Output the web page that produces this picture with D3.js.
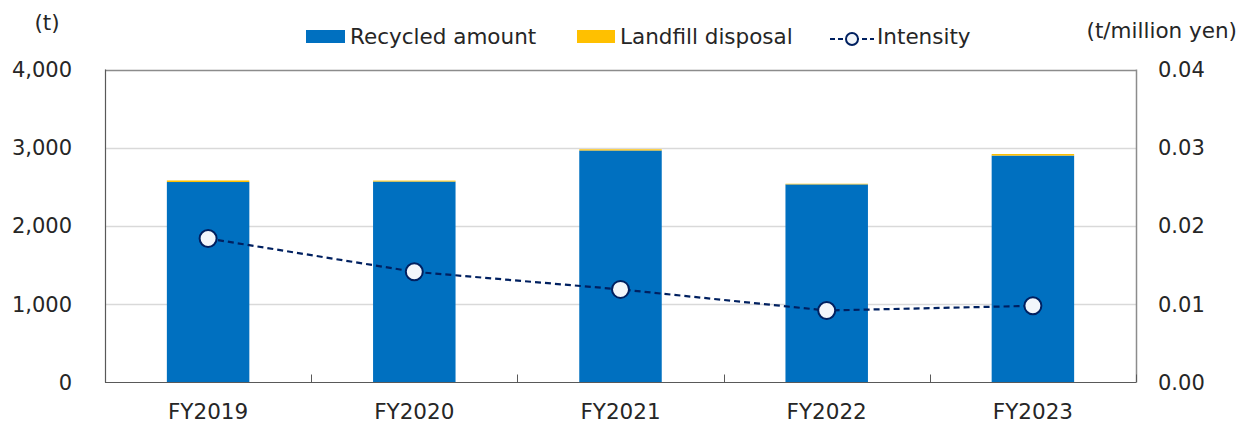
<!DOCTYPE html>
<html lang="en">
<head>
  <meta charset="UTF-8" />
  <title>Waste amount and intensity</title>
  <script src="https://cdn.jsdelivr.net/npm/d3@7"></script>
  <style>
    body { margin: 0; background: #fff; }
    text { font-family: Verdana, "DejaVu Sans", sans-serif; fill: #262626; }
  </style>
</head>
<body>
  <svg id="chart" width="1239" height="423"></svg>
  <script>
    // data
    let years = ["FY2019", "FY2020", "FY2021", "FY2022", "FY2023"];
    let recycled = [2562, 2568, 2965, 2532, 2900];
    let landfill = [20, 12, 15, 8, 20];
    let intensity = [0.0184, 0.01415, 0.0119, 0.0092, 0.0098];
    let leftTicks = [0, 1000, 2000, 3000, 4000];
    let rightTicks = [0, 0.01, 0.02, 0.03, 0.04];

    let svg = d3.select("#chart");
    let m = { left: 105, right: 1136, top: 69.5, bottom: 382.5 };

    let x = d3.scaleBand().domain(years).range([m.left, m.right])
      .paddingInner(0.6).paddingOuter(0.3);
    let yL = d3.scaleLinear().domain([0, 4000]).range([m.bottom, m.top]);
    let yR = d3.scaleLinear().domain([0, 0.04]).range([m.bottom, m.top]);

    // gridlines
    svg.append("g")
      .selectAll("line")
      .data(leftTicks.slice(1))
      .join("line")
      .attr("x1", m.left)
      .attr("x2", m.right)
      .attr("y1", d => Math.round(yL(d)) + 0.5)
      .attr("y2", d => Math.round(yL(d)) + 0.5)
      .attr("stroke", d => d == 4000 ? "#8c8c8c" : "#d9d9d9")
      .attr("stroke-width", 1.5);

    // stacked bars
    let bw = x.bandwidth();
    svg.append("g")
      .selectAll("rect")
      .data(years)
      .join("rect")
      .attr("x", d => x(d))
      .attr("width", bw)
      .attr("y", (d, i) => yL(recycled[i]))
      .attr("height", (d, i) => yL(0) - yL(recycled[i]))
      .attr("fill", "#0070c0");
    svg.append("g")
      .selectAll("rect")
      .data(years)
      .join("rect")
      .attr("x", d => x(d))
      .attr("width", bw)
      .attr("y", (d, i) => yL(recycled[i] + landfill[i]))
      .attr("height", (d, i) => yL(recycled[i]) - yL(recycled[i] + landfill[i]))
      .attr("fill", "#ffc000");

    // axes lines
    svg.append("line")
      .attr("x1", m.left + 0.5).attr("x2", m.left + 0.5)
      .attr("y1", m.top).attr("y2", m.bottom)
      .attr("stroke", "#595959").attr("stroke-width", 1.2);
    svg.append("line")
      .attr("x1", m.right + 0.5).attr("x2", m.right + 0.5)
      .attr("y1", m.top).attr("y2", m.bottom)
      .attr("stroke", "#8c8c8c").attr("stroke-width", 1.5);
    svg.append("line")
      .attr("x1", m.left).attr("x2", m.right)
      .attr("y1", m.bottom).attr("y2", m.bottom)
      .attr("stroke", "#595959").attr("stroke-width", 1.2);

    // category boundary ticks (pointing up)
    let step = (m.right - m.left) / years.length;
    svg.append("g")
      .selectAll("line")
      .data(d3.range(years.length + 1))
      .join("line")
      .attr("x1", i => Math.round(m.left + i * step) + 0.5)
      .attr("x2", i => Math.round(m.left + i * step) + 0.5)
      .attr("y1", m.bottom - 8)
      .attr("y2", m.bottom)
      .attr("stroke", "#595959");

    // tick labels
    let fmt = d3.format(",");
    svg.append("g")
      .selectAll("text")
      .data(leftTicks)
      .join("text")
      .attr("x", 72)
      .attr("y", d => yL(d))
      .attr("dy", "0.35em")
      .attr("text-anchor", "end")
      .style("font-size", "21px")
      .text(d => fmt(d));
    svg.append("g")
      .selectAll("text")
      .data(rightTicks)
      .join("text")
      .attr("x", 1158)
      .attr("y", d => yR(d))
      .attr("dy", "0.35em")
      .style("font-size", "21px")
      .text(d => d3.format(".2f")(d));
    svg.append("g")
      .selectAll("text")
      .data(years)
      .join("text")
      .attr("x", d => x(d) + bw / 2)
      .attr("y", 411)
      .attr("dy", "0.35em")
      .attr("text-anchor", "middle")
      .style("font-size", "21.5px")
      .text(d => d);

    // unit labels
    svg.append("text").attr("x", 47).attr("y", 22).attr("dy", "0.35em")
      .attr("text-anchor", "middle").style("font-size", "21.5px").text("(t)");
    svg.append("text").attr("x", 1237).attr("y", 30).attr("dy", "0.35em")
      .attr("text-anchor", "end").style("font-size", "21.5px").text("(t/million yen)");

    // intensity line
    let line = d3.line()
      .x((d, i) => x(years[i]) + bw / 2)
      .y(d => yR(d));
    svg.append("path")
      .datum(intensity)
      .attr("d", line)
      .attr("fill", "none")
      .attr("stroke", "#002060")
      .attr("stroke-width", 2.2)
      .attr("stroke-dasharray", "6,4");
    svg.append("g")
      .selectAll("circle")
      .data(intensity)
      .join("circle")
      .attr("cx", (d, i) => x(years[i]) + bw / 2)
      .attr("cy", d => yR(d))
      .attr("r", 8.5)
      .attr("fill", "#f2f6fb")
      .attr("stroke", "#002060")
      .attr("stroke-width", 2);

    // legend
    let lg = svg.append("g");
    lg.append("rect").attr("x", 306).attr("y", 30).attr("width", 39).attr("height", 13).attr("fill", "#0070c0");
    lg.append("text").attr("x", 350).attr("y", 36).attr("dy", "0.35em").style("font-size", "21.5px").text("Recycled amount");
    lg.append("rect").attr("x", 577).attr("y", 30).attr("width", 38).attr("height", 13).attr("fill", "#ffc000");
    lg.append("text").attr("x", 620).attr("y", 36).attr("dy", "0.35em").style("font-size", "21.5px").text("Landfill disposal");
    lg.append("line").attr("x1", 830).attr("x2", 874).attr("y1", 39).attr("y2", 39)
      .attr("stroke", "#002060").attr("stroke-width", 2.2).attr("stroke-dasharray", "5,3");
    lg.append("circle").attr("cx", 852).attr("cy", 39).attr("r", 6)
      .attr("fill", "#f2f6fb").attr("stroke", "#002060").attr("stroke-width", 2);
    lg.append("text").attr("x", 877).attr("y", 36).attr("dy", "0.35em").style("font-size", "21.5px").text("Intensity");
  </script>
</body>
</html>
